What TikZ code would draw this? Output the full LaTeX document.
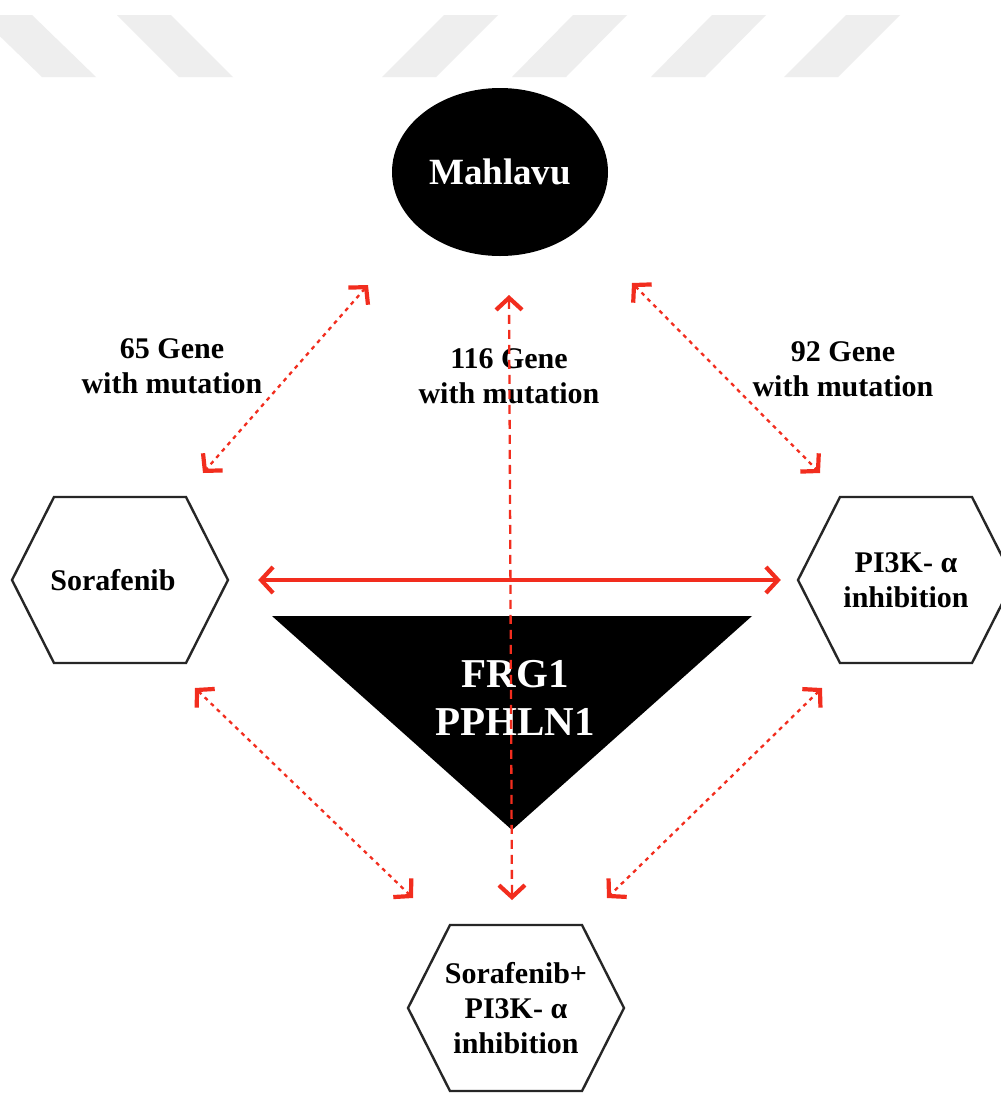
\documentclass[tikz,border=0pt]{standalone}
\usepackage{fontspec}
\setmainfont{Liberation Serif}
\usetikzlibrary{shapes.geometric,arrows.meta}
\definecolor{linkred}{RGB}{242,45,30}
\definecolor{stripegray}{RGB}{238,238,238}
\begin{document}
\begin{tikzpicture}[x=1pt,y=-1pt,
  lbl/.style={font=\fontsize{30}{35}\selectfont\bfseries, align=center, inner sep=0pt},
  hexlabel/.style={lbl, minimum width=216pt, minimum height=166pt},
  hexline/.style={draw=black!85, line width=2.4pt, line join=miter},
  barb/.tip={Straight Barb[length=12pt,width=26pt,line width=4.2pt]},
  dotlink/.style={draw=linkred, line width=2.3pt, dash pattern=on 4pt off 4.5pt, barb-barb},
  dashlink/.style={draw=linkred, line width=2.3pt, dash pattern=on 9pt off 6pt, barb-barb},
  solidlink/.style={draw=linkred, line width=3.2pt, barb-barb}]

% canvas
\fill[white] (0,0) rectangle (1001,1093);
\useasboundingbox (0,0) rectangle (1001,1093);
\clip (0,0) rectangle (1001,1093);

% decorative stripes along the top
\fill[stripegray] (-22,15) -- (32,15) -- (96,77) -- (42,77) -- cycle;
\fill[stripegray] (117,15) -- (171,15) -- (233,77) -- (179,77) -- cycle;
\foreach \t/\b in {444/382, 573/512, 712/651, 846/784}
  \fill[stripegray] (\t,15) -- (\t+54,15) -- (\b+54,77) -- (\b,77) -- cycle;

% cell line
\node[ellipse, fill=black, text=white, minimum width=216pt, minimum height=168pt,
      font=\fontsize{37}{40}\selectfont\bfseries] (mah) at (500,172) {Mahlavu};

% common genes
\fill[black] (272,616) -- (752,616) -- (512,830) -- cycle;
\node[text=white, align=center, inner sep=0pt,
      font=\fontsize{41}{48}\selectfont\bfseries] (frg) at (515,698) {FRG1\\PPHLN1};

% treatments
\node[hexlabel] (sor) at (120,580) {Sorafenib\hspace*{14pt}};
\node[hexlabel] (pik) at (906,580) {PI3K- α\\inhibition};
\node[hexlabel] (combo) at (516,1008) {Sorafenib+\\PI3K- α\\inhibition};
\foreach \h in {sor,pik,combo}
  \draw[hexline] ([xshift=-108pt]\h.center) -- ([xshift=-66pt,yshift=83pt]\h.center)
    -- ([xshift=66pt,yshift=83pt]\h.center) -- ([xshift=108pt]\h.center)
    -- ([xshift=66pt,yshift=-83pt]\h.center) -- ([xshift=-66pt,yshift=-83pt]\h.center) -- cycle;

% mutation counts
\node[lbl] (g65) at (172,366) {65 Gene\\with mutation};
\node[lbl] (g116) at (509,376) {116 Gene\\with mutation};
\node[lbl] (g92) at (843,369) {92 Gene\\with mutation};

% connector ends
\coordinate (mahL) at (368,285);
\coordinate (mahC) at (509,295);
\coordinate (mahR) at (632,283);
\coordinate (sorT) at (203,473);
\coordinate (sorB) at (195,688);
\coordinate (pikT) at (820,473);
\coordinate (pikB) at (822,688);
\coordinate (comL) at (413,898);
\coordinate (comC) at (512,900);
\coordinate (comR) at (607,898);

% connectors
\draw[dotlink] (mahL) -- (sorT);
\draw[dotlink] (mahR) -- (pikT);
\draw[dotlink] (sorB) -- (comL);
\draw[dotlink] (pikB) -- (comR);
\draw[dashlink] (mahC) -- (comC);
\draw[solidlink] ([xshift=30pt]sor.east) -- ([xshift=-17pt]pik.west);
\end{tikzpicture}
\end{document}
